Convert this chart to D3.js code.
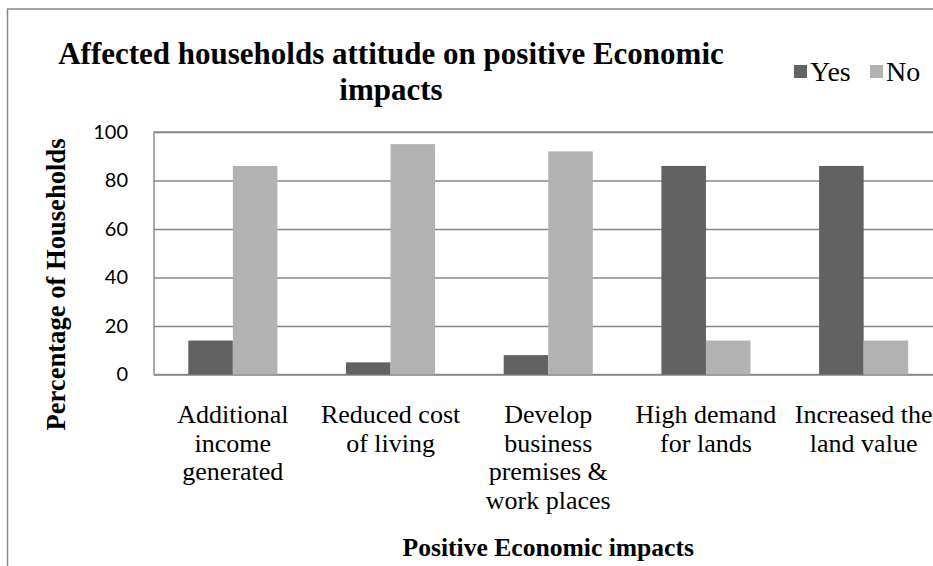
<!DOCTYPE html>
<html>
<head>
<meta charset="utf-8">
<script src="https://cdn.jsdelivr.net/npm/d3@7"></script>
<style>
  body { margin: 0; background: #fff; }
  svg { display: block; }
</style>
</head>
<body>
<div id="chart"></div>
<script>
// chart data
var categories = [
  ["Additional", "income", "generated"],
  ["Reduced cost", "of living"],
  ["Develop", "business", "premises &", "work places"],
  ["High demand", "for lands"],
  ["Increased the", "land value"]
];
var series = ["Yes", "No"];
var yesValues = [14, 5, 8, 86, 86];
var noValues = [86, 95, 92, 14, 14];
var yTicks = [0, 20, 40, 60, 80, 100];

var colors = { "Yes": "#626262", "No": "#b2b2b2" };
var gridColor = "#888888";

var width = 933, height = 566;
var plot = { left: 154, top: 132, right: 942.5, bottom: 374.5 };

var svg = d3.select("#chart").append("svg")
    .attr("width", width)
    .attr("height", height);

// outer frame (cropped on the right and bottom)
svg.append("rect")
    .attr("x", 7.5).attr("y", 9)
    .attr("width", 1000).attr("height", 700)
    .attr("fill", "none")
    .attr("stroke", gridColor)
    .attr("stroke-width", 1.5);

var keys = categories.map(function(d, i) { return i; });

var x0 = d3.scaleBand()
    .domain(keys)
    .range([plot.left, plot.right])
    .paddingInner(0);

var x1 = d3.scaleBand()
    .domain(series)
    .range([0, x0.bandwidth()])
    .paddingInner(0)
    .paddingOuter(0.77);

var y = d3.scaleLinear()
    .domain([0, 100])
    .range([plot.bottom, plot.top]);

// gridlines
var grid = svg.append("g")
    .attr("transform", "translate(" + plot.left + ",0)")
    .call(d3.axisLeft(y).tickValues(yTicks).tickSize(-(plot.right - plot.left)).tickFormat(""));
grid.select(".domain").remove();
grid.selectAll("line").attr("stroke", gridColor).attr("stroke-width", 1.4);

// plot border
svg.append("rect")
    .attr("x", plot.left).attr("y", plot.top)
    .attr("width", plot.right - plot.left).attr("height", plot.bottom - plot.top)
    .attr("fill", "none")
    .attr("stroke", gridColor)
    .attr("stroke-width", 1.4);

// bars
var rows = keys.map(function(i) {
  return { key: i, values: [ { s: "Yes", v: yesValues[i] }, { s: "No", v: noValues[i] } ] };
});

var groups = svg.append("g").selectAll("g")
    .data(rows)
    .enter().append("g")
    .attr("transform", function(d) { return "translate(" + x0(d.key) + ",0)"; });

groups.selectAll("rect")
    .data(function(d) { return d.values; })
    .enter().append("rect")
    .attr("x", function(d) { return x1(d.s); })
    .attr("y", function(d) { return y(d.v); })
    .attr("width", x1.bandwidth())
    .attr("height", function(d) { return y(0) - y(d.v); })
    .attr("fill", function(d) { return colors[d.s]; });

// y tick labels
var yAxis = svg.append("g")
    .attr("transform", "translate(" + plot.left + ",0)")
    .call(d3.axisLeft(y).tickValues(yTicks).tickSize(0).tickPadding(26));
yAxis.select(".domain").remove();
yAxis.selectAll("text")
    .attr("font-family", "Lato, 'Open Sans', sans-serif")
    .attr("font-size", 20)
    .attr("fill", "#000");

// x category labels
var xLabels = svg.append("g").selectAll("text")
    .data(rows)
    .enter().append("text")
    .attr("x", function(d) { return x0(d.key) + x0.bandwidth() / 2; })
    .attr("y", 423)
    .attr("text-anchor", "middle")
    .attr("font-family", "'Liberation Serif', 'Times New Roman', serif")
    .attr("font-size", 26)
    .attr("fill", "#000");

xLabels.selectAll("tspan")
    .data(function(d) { return categories[d.key]; })
    .enter().append("tspan")
    .attr("x", function() { return d3.select(this.parentNode).attr("x"); })
    .attr("dy", function(d, i) { return i === 0 ? 0 : 28.5; })
    .text(function(d) { return d; });

// title
var title = svg.append("text")
    .attr("x", 391)
    .attr("y", 64)
    .attr("text-anchor", "middle")
    .attr("font-family", "'Liberation Serif', 'Times New Roman', serif")
    .attr("font-weight", "bold")
    .attr("font-size", 31)
    .attr("fill", "#000");
title.append("tspan").attr("x", 391).attr("dy", 0).text("Affected households attitude on positive Economic");
title.append("tspan").attr("x", 391).attr("dy", 35.5).text("impacts");

// axis titles
svg.append("text")
    .attr("transform", "translate(65,284.5) rotate(-90)")
    .attr("text-anchor", "middle")
    .attr("font-family", "'Liberation Serif', 'Times New Roman', serif")
    .attr("font-weight", "bold")
    .attr("font-size", 26.6)
    .attr("fill", "#000")
    .text("Percentage of Households");

svg.append("text")
    .attr("x", (plot.left + plot.right) / 2)
    .attr("y", 556)
    .attr("text-anchor", "middle")
    .attr("font-family", "'Liberation Serif', 'Times New Roman', serif")
    .attr("font-weight", "bold")
    .attr("font-size", 25.6)
    .attr("fill", "#000")
    .text("Positive Economic impacts");

// legend
var legendX = [794, 870];
var legend = svg.append("g").selectAll("g")
    .data(series)
    .enter().append("g")
    .attr("transform", function(d, i) { return "translate(" + legendX[i] + ",0)"; });

legend.append("rect")
    .attr("x", 0).attr("y", 65)
    .attr("width", 13).attr("height", 13)
    .attr("fill", function(d) { return colors[d]; });

legend.append("text")
    .attr("x", 16)
    .attr("y", 81)
    .attr("font-family", "'Liberation Serif', 'Times New Roman', serif")
    .attr("font-size", 28)
    .attr("fill", "#000")
    .text(function(d) { return d; });
</script>
</body>
</html>
